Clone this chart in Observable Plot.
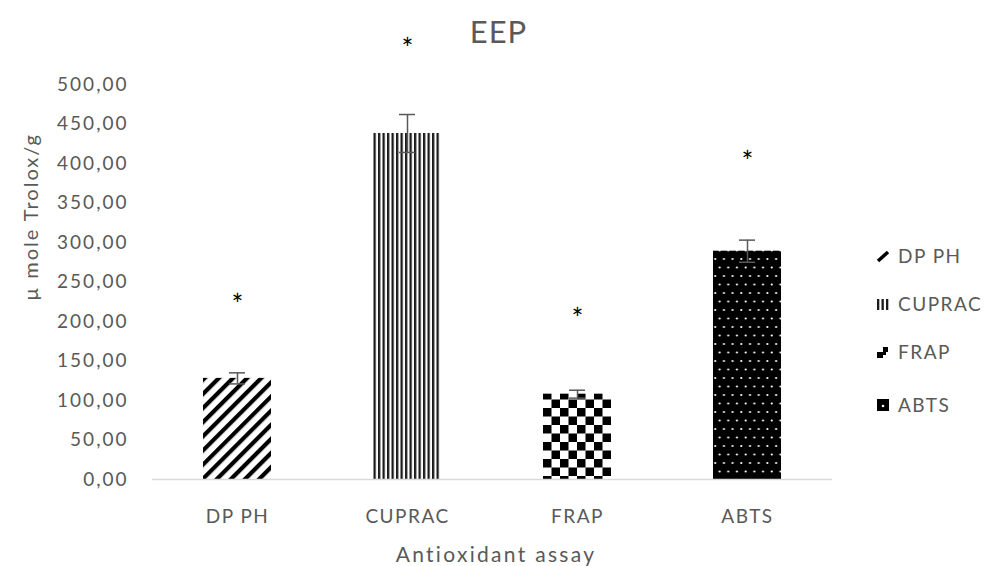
<!DOCTYPE html>
<html>
<head>
<meta charset="utf-8">
<script src="https://cdn.jsdelivr.net/npm/d3@7"></script>
<script src="https://cdn.jsdelivr.net/npm/@observablehq/plot@0.6"></script>
<style>
  body { margin: 0; background: #fff; }
  #wrap { position: relative; width: 989px; height: 566px; font-family: Lato, "Open Sans", sans-serif; color: #595959; }
  #title { position: absolute; width: 989px; top: 12px; text-align: center; font-size: 31px; left: 4px; letter-spacing: 1px; }
  #ylab { position: absolute; left: 30px; top: 217px; transform: translate(-50%, -50%) rotate(-90deg); white-space: nowrap; font-size: 20px; letter-spacing: 2px; }
  #xlab { position: absolute; left: 496px; top: 553px; transform: translate(-50%, -50%); white-space: nowrap; font-size: 21px; letter-spacing: 2.3px; }
  #legend { position: absolute; left: 876px; top: 244px; font-size: 19px; letter-spacing: 1.5px; }
  #legend .item { position: absolute; left: 0; white-space: nowrap; display: flex; align-items: center; }
  #legend svg { margin-right: 8px; }
</style>
</head>
<body>
<div id="wrap">
  <div id="title">EEP</div>
  <div id="ylab">µ mole Trolox/g</div>
  <div id="xlab">Antioxidant assay</div>
  <div id="legend"></div>
</div>
<script>
const categories = ["DPPH", "CUPRAC", "FRAP", "ABTS"];
const labels = ["DP PH", "CUPRAC", "FRAP", "ABTS"];
const values = [128, 438, 108, 289];
const errors = [7, 24, 5, 14];
const starPos = [227, 551, 210, 408];
const yTicks = [0, 50, 100, 150, 200, 250, 300, 350, 400, 450, 500];

const patternIds = {DPPH: "pDiag", CUPRAC: "pVert", FRAP: "pCheck", ABTS: "pDots"};
const data = categories.map((c, i) => ({cat: c, label: labels[i], value: values[i], err: errors[i], star: starPos[i], fill: `url(#${patternIds[c]})`}));

const defs = `
<defs>
  <pattern id="pDiag" patternUnits="userSpaceOnUse" width="10" height="10" patternTransform="rotate(45)">
    <rect width="10" height="10" fill="#fff"/>
    <rect x="0" y="0" width="4.2" height="10" fill="#000"/>
  </pattern>
  <pattern id="pVert" patternUnits="userSpaceOnUse" width="4.5" height="10">
    <rect width="4.5" height="10" fill="#fff"/>
    <rect x="0" y="0" width="2.3" height="10" fill="#1a1a1a"/>
  </pattern>
  <pattern id="pCheck" patternUnits="userSpaceOnUse" width="17" height="17" x="543" y="0">
    <rect width="17" height="17" fill="#fff"/>
    <rect x="0" y="0" width="8.5" height="8.5" fill="#000"/>
    <rect x="8.5" y="8.5" width="8.5" height="8.5" fill="#000"/>
  </pattern>
  <pattern id="pDots" patternUnits="userSpaceOnUse" width="8.7" height="17" x="713">
    <rect width="8.7" height="17" fill="#000"/>
    <circle cx="2.2" cy="4" r="1.1" fill="#fff"/>
    <circle cx="6.55" cy="12.5" r="1.1" fill="#fff"/>
  </pattern>
</defs>`;

const fmt = d => d3.format(".2f")(d).replace(".", ",");

const plot = Plot.plot({
  width: 989,
  height: 566,
  marginLeft: 152,
  marginRight: 157,
  marginTop: 84,
  marginBottom: 87,
  style: {fontFamily: "Lato, 'Open Sans', sans-serif", color: "#595959", background: "transparent"},
  x: {domain: categories, paddingInner: 0.6, paddingOuter: 0.3, label: null},
  y: {domain: [0, 500], label: null},
  color: {type: "identity"},
  marks: [
    Plot.barY(data, {x: "cat", y: "value", fill: "fill"}),
    Plot.ruleX(data, {x: "cat", y1: d => d.value - d.err, y2: d => d.value + d.err, stroke: "#595959", strokeWidth: 1.5}),
    Plot.tickY(data, {x: "cat", y: d => d.value + d.err, stroke: "#595959", strokeWidth: 1.5, insetLeft: 26, insetRight: 26}),
    Plot.tickY(data, {x: "cat", y: d => d.value - d.err, stroke: "#595959", strokeWidth: 1.5, insetLeft: 26, insetRight: 26}),
    Plot.text(data, {x: "cat", y: "star", text: () => "*", fontSize: 28, fill: "#000", dy: 6}),
    Plot.ruleY([0], {stroke: "#d9d9d9", strokeWidth: 1.3}),
    Plot.axisY({ticks: yTicks, tickFormat: fmt, tickSize: 0, tickPadding: 24, fontSize: 19, label: null}),
    Plot.axisX({tickSize: 0, tickPadding: 30, fontSize: 19, tickFormat: c => labels[categories.indexOf(c)], label: null})
  ]
});
plot.insertAdjacentHTML("afterbegin", defs);
plot.style.position = "absolute";
plot.style.left = "0";
plot.style.top = "0";
plot.querySelectorAll("[aria-label='y-axis tick label'] text").forEach(t => t.setAttribute("letter-spacing", "2"));
plot.querySelectorAll("[aria-label='x-axis tick label'] text").forEach(t => t.setAttribute("letter-spacing", "1.5"));
document.getElementById("wrap").prepend(plot);

// legend
const legend = document.getElementById("legend");
const legendTops = [0, 48, 96, 149];
const swatch = {
  DPPH: `<svg width="14" height="14"><line x1="2" y1="12" x2="12" y2="3" stroke="#000" stroke-width="3.5"/></svg>`,
  CUPRAC: `<svg width="14" height="14"><rect x="1" y="2" width="2.3" height="11" fill="#1a1a1a"/><rect x="5.5" y="2" width="2.3" height="11" fill="#1a1a1a"/><rect x="10" y="2" width="2.3" height="11" fill="#1a1a1a"/></svg>`,
  FRAP: `<svg width="14" height="14"><rect x="1" y="7" width="6" height="6" fill="#000"/><rect x="7" y="2" width="5" height="5" fill="#000"/><rect x="7" y="7" width="3" height="3" fill="#000"/></svg>`,
  ABTS: `<svg width="14" height="14"><rect x="1" y="1" width="12" height="12" fill="#000"/><circle cx="7" cy="8" r="1.3" fill="#fff"/></svg>`
};
categories.forEach((c, i) => {
  const div = document.createElement("div");
  div.className = "item";
  div.style.top = legendTops[i] + "px";
  div.innerHTML = swatch[c] + `<span>${labels[i]}</span>`;
  legend.appendChild(div);
});
</script>
</body>
</html>
